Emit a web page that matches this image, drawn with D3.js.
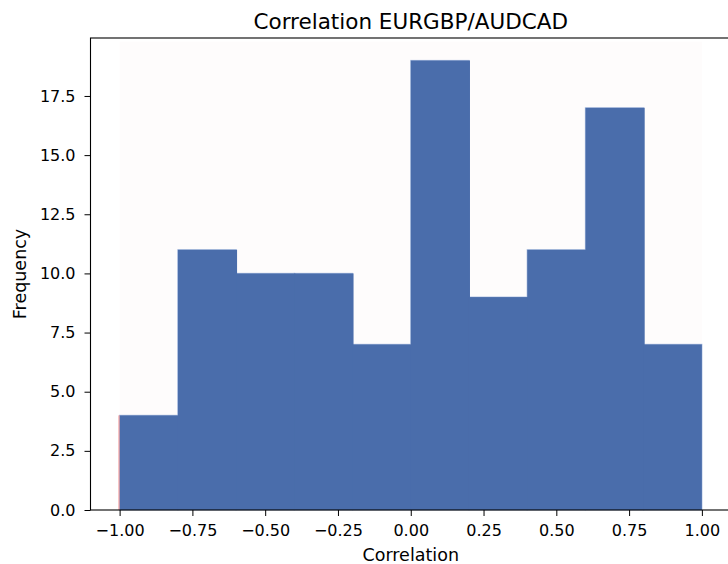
<!DOCTYPE html>
<html><head><meta charset="utf-8">
<script src="https://cdn.jsdelivr.net/npm/d3@7"></script>
<style>body{margin:0;background:#fff}svg{display:block;font-family:"DejaVu Sans",sans-serif}</style>
</head><body><svg id="c" width="728" height="564"></svg>
<script>
const title = "Correlation EURGBP/AUDCAD";
const xLabel = "Correlation";
const yLabel = "Frequency";
const binEdges = [-1.0,-0.8,-0.6,-0.4,-0.2,0.0,0.2,0.4,0.6,0.8,1.0];
const counts = [4,11,10,10,7,19,9,11,17,7];
const xTicks = [-1.0,-0.75,-0.5,-0.25,0,0.25,0.5,0.75,1.0];
const yTicks = [0,2.5,5,7.5,10,12.5,15,17.5];

const svg = d3.select("#c");
const L=90.5, R=731, T=38, B=510;
const x = d3.scaleLinear().domain([-1.1,1.1]).range([L,R]);
const y = d3.scaleLinear().domain([0,19.95]).range([B,T]);

// faint background span
svg.append("rect").attr("x",x(-1)).attr("y",y(19.8)).attr("width",x(1)-x(-1)).attr("height",y(0)-y(19.8)).attr("fill","#fefcfc");

const bins = counts.map((c,i)=>({x0:binEdges[i],x1:binEdges[i+1],c,last:i===counts.length-1}));
// light edges underneath
svg.append("g").selectAll("rect").data(bins).join("rect")
  .attr("x",d=>x(d.x0)).attr("y",d=>y(d.c))
  .attr("width",d=>x(d.x1)-x(d.x0)).attr("height",d=>y(0)-y(d.c))
  .attr("fill","none").attr("stroke","#b8c8e6").attr("stroke-width",1.2);
// fills on top (slightly overlapping to avoid seams)
svg.append("g").selectAll("rect").data(bins).join("rect")
  .attr("x",d=>x(d.x0)).attr("y",d=>y(d.c))
  .attr("width",d=>x(d.x1)-x(d.x0)+(d.last?0:1)).attr("height",d=>y(0)-y(d.c))
  .attr("fill","#4a6dab");

// pink edge line at x=-1
svg.append("line").attr("x1",x(-1)-0.6).attr("x2",x(-1)-0.6).attr("y1",y(0)).attr("y2",y(counts[0]))
  .attr("stroke","#f08a8a").attr("stroke-width",1);

// spines
svg.append("rect").attr("x",L).attr("y",T).attr("width",R-L).attr("height",B-T)
  .attr("fill","none").attr("stroke","#000").attr("stroke-width",1.1);

const fmt = d3.format(".2f");
const xa = svg.append("g").attr("transform",`translate(0,${B})`)
  .call(d3.axisBottom(x).tickValues(xTicks).tickFormat(d=>fmt(d).replace("-","\u2212")).tickSize(6).tickPadding(9));
const ya = svg.append("g").attr("transform",`translate(${L},0)`)
  .call(d3.axisLeft(y).tickValues(yTicks).tickFormat(d3.format(".1f")).tickSize(6).tickPadding(9));
[xa,ya].forEach(a=>{a.select(".domain").remove();a.selectAll("text").attr("font-family","DejaVu Sans").attr("font-size",16).attr("fill","#000");a.selectAll("line").attr("stroke","#000").attr("stroke-width",1);});

svg.append("text").attr("x",(L+R)/2).attr("y",29).attr("text-anchor","middle").attr("font-size",21.5).text(title);
svg.append("text").attr("x",(L+R)/2).attr("y",561).attr("text-anchor","middle").attr("font-size",17.5).text(xLabel);
svg.append("text").attr("transform",`translate(26,${(T+B)/2}) rotate(-90)`).attr("text-anchor","middle").attr("font-size",17.5).text(yLabel);
</script></body></html>
